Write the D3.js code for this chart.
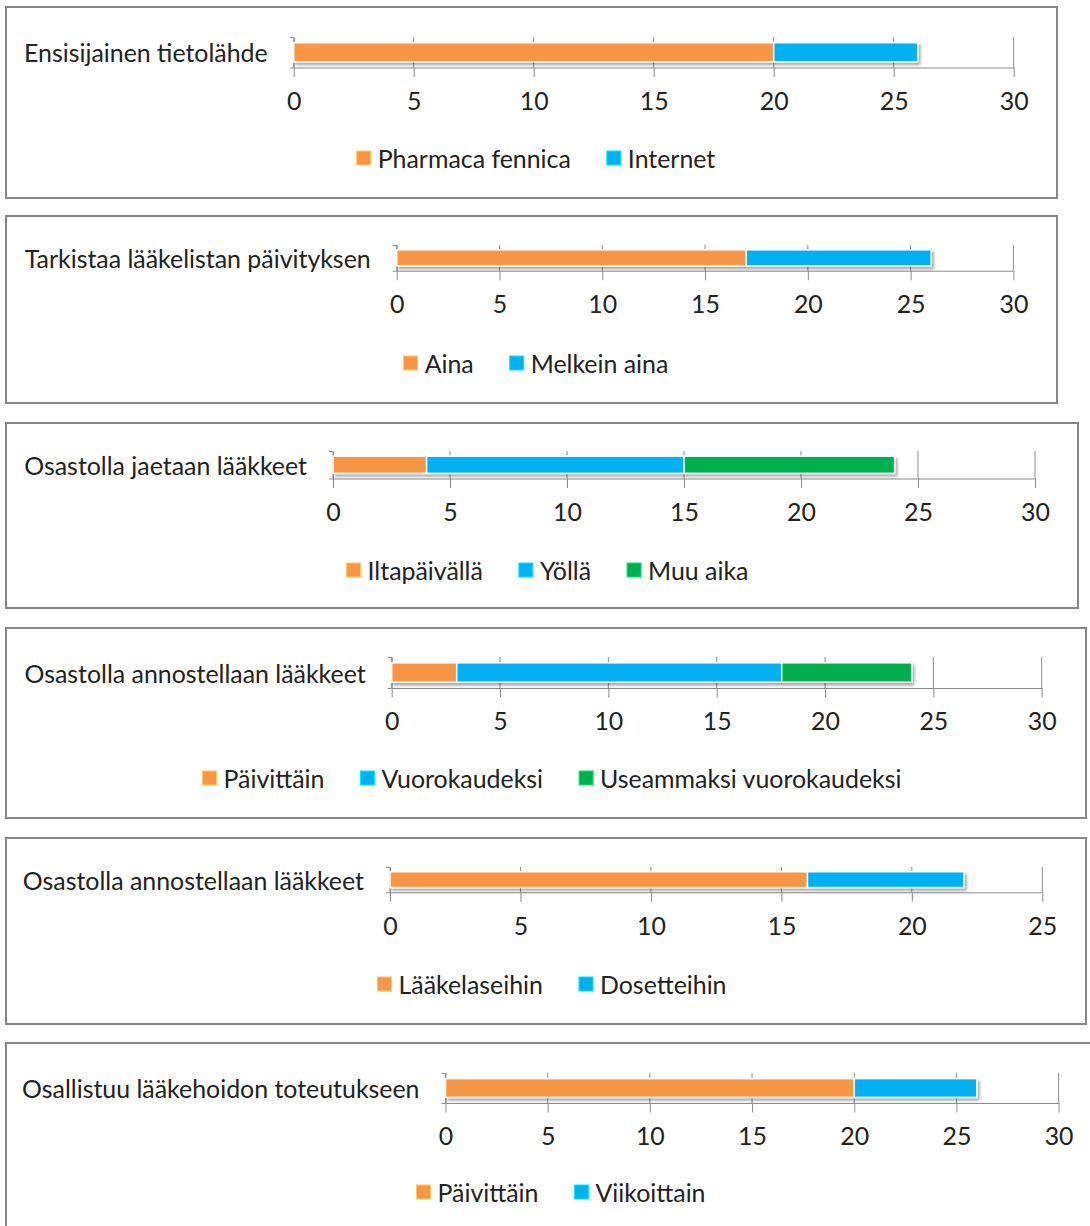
<!DOCTYPE html>
<html>
<head>
<meta charset="utf-8">
<script src="https://cdn.jsdelivr.net/npm/d3@7/dist/d3.min.js"></script>
<style>
  html, body { margin: 0; padding: 0; background: #fff; }
  svg { display: block; }
  text { font-family: Lato, "Noto Sans", sans-serif; fill: #222; }
</style>
</head>
<body>
<svg id="chart" width="1090" height="1226"></svg>
<script>
// ---------- DATA ----------
const panelLabels = [
  "Ensisijainen tietolähde",
  "Tarkistaa lääkelistan päivityksen",
  "Osastolla jaetaan lääkkeet",
  "Osastolla annostellaan lääkkeet",
  "Osastolla annostellaan lääkkeet",
  "Osallistuu lääkehoidon toteutukseen"
];
const seriesNames = [
  ["Pharmaca fennica", "Internet"],
  ["Aina", "Melkein aina"],
  ["Iltapäivällä", "Yöllä", "Muu aika"],
  ["Päivittäin", "Vuorokaudeksi", "Useammaksi vuorokaudeksi"],
  ["Lääkelaseihin", "Dosetteihin"],
  ["Päivittäin", "Viikoittain"]
];
const seriesValues = [
  [20, 6],
  [17, 9],
  [4, 11, 9],
  [3, 15, 6],
  [16, 6],
  [20, 6]
];
const axisMax = [30, 30, 30, 30, 25, 30];
const tickStep = 5;
const seriesColors = ["#F79646", "#00B0F0", "#00B050"];

// ---------- LAYOUT ----------
const layout = [
  { box: [6, 7, 1057, 198],    x0: 293.7, x1: 1013.7, top: 37,  base: 67.5,  legendCx: 536,   legendY: 158 },
  { box: [6, 216, 1057, 403],  x0: 396.7, x1: 1013.4, top: 245, base: 270.7, legendCx: 536,   legendY: 363 },
  { box: [6, 423, 1078, 608],  x0: 333,   x1: 1035,   top: 451, base: 478.5, legendCx: 547.5, legendY: 570 },
  { box: [6, 628, 1086, 818],  x0: 391.7, x1: 1041.7, top: 657, base: 688,   legendCx: 552,   legendY: 778 },
  { box: [6, 838, 1086, 1024], x0: 390,   x1: 1042.3, top: 867, base: 892.3, legendCx: 552,   legendY: 984 },
  { box: [6, 1043, 1108, 1240], x0: 445.5, x1: 1058.6, top: 1073, base: 1103, legendCx: 561,  legendY: 1192 }
];
const fontSize = 24.9;
const gridColor = "#8c8c8c";

const svg = d3.select("#chart");

const defs = svg.append("defs");
const f = defs.append("filter").attr("id", "shadow")
  .attr("x", "-5%").attr("y", "-50%").attr("width", "110%").attr("height", "200%");
f.append("feDropShadow").attr("dx", 2).attr("dy", 2.5).attr("stdDeviation", 1.8)
  .attr("flood-color", "#000").attr("flood-opacity", 0.35);

panelLabels.forEach((label, i) => {
  const L = layout[i];
  const g = svg.append("g");
  const [bx0, by0, bx1, by1] = L.box;

  // frame
  g.append("rect")
    .attr("x", bx0).attr("y", by0)
    .attr("width", bx1 - bx0).attr("height", by1 - by0)
    .attr("fill", "#fff").attr("stroke", "#868686").attr("stroke-width", 2);

  const x = d3.scaleLinear().domain([0, axisMax[i]]).range([L.x0, L.x1]);
  const y = d3.scaleBand().domain([label]).range([L.top, L.base]).paddingOuter(0.3).paddingInner(0);
  const ticks = d3.range(0, axisMax[i] + 0.001, tickStep);

  // gridlines
  g.append("g").selectAll("line").data(ticks).join("line")
    .attr("x1", d => x(d)).attr("x2", d => x(d))
    .attr("y1", L.top).attr("y2", L.base)
    .attr("stroke", gridColor).attr("stroke-width", 1);

  // value axis
  const xAxis = d3.axisBottom(x).tickValues(ticks).tickSize(9.5).tickSizeOuter(0).tickPadding(15.3)
    .tickFormat(d3.format("d"));
  const ax = g.append("g").attr("transform", `translate(0,${L.base})`).call(xAxis);
  ax.select(".domain").attr("stroke", gridColor);
  ax.selectAll(".tick line").attr("stroke", gridColor);
  ax.selectAll(".tick text").style("font-family", "Lato, 'Noto Sans', sans-serif")
    .style("font-size", fontSize + "px").attr("fill", "#222");

  // category axis (bracket)
  const yEdge = d3.scaleLinear().domain([0, 1]).range([L.top, L.base]);
  const cAxis = d3.axisLeft(yEdge).tickValues([0, 1]).tickSize(4).tickSizeOuter(0).tickFormat("");
  const ca = g.append("g").attr("transform", `translate(${L.x0},0)`).call(cAxis);
  ca.select(".domain").attr("stroke", gridColor);
  ca.selectAll(".tick line").attr("stroke", gridColor);

  // category label
  g.append("text")
    .attr("x", L.x0 - 26).attr("y", y(label) + y.bandwidth() / 2)
    .attr("text-anchor", "end").attr("dominant-baseline", "central")
    .style("font-size", fontSize + "px")
    .text(label);

  // stacked bar
  const vals = seriesValues[i];
  const stackData = [];
  let acc = 0;
  vals.forEach((v, k) => { stackData.push({ k, s: acc, e: acc + v }); acc += v; });
  const barG = g.append("g").attr("filter", "url(#shadow)");
  barG.selectAll("rect").data(stackData).join("rect")
    .attr("x", d => x(d.s)).attr("y", y(label))
    .attr("width", d => x(d.e) - x(d.s)).attr("height", y.bandwidth())
    .attr("fill", d => seriesColors[d.k])
    .attr("stroke", "#fff").attr("stroke-width", 1.5);

  // legend
  const names = seriesNames[i];
  const lg = g.append("g");
  const items = lg.selectAll("g").data(names).join("g");
  items.append("rect").attr("width", 14).attr("height", 14).attr("y", -7)
    .attr("fill", (d, k) => seriesColors[k])
    .attr("stroke", (d, k) => d3.color(seriesColors[k]).brighter(0.8)).attr("stroke-width", 1);
  items.append("text").attr("x", 21).attr("y", 0).attr("dominant-baseline", "central")
    .style("font-size", fontSize + "px").text(d => d);
  let cx = 0;
  const sq = 21, gap = 36;
  items.each(function () {
    const w = d3.select(this).select("text").node().getComputedTextLength();
    d3.select(this).attr("transform", `translate(${cx},0)`);
    cx += sq + w + gap;
  });
  const total = cx - gap;
  lg.attr("transform", `translate(${L.legendCx - total / 2},${L.legendY})`);
});
</script>
</body>
</html>
